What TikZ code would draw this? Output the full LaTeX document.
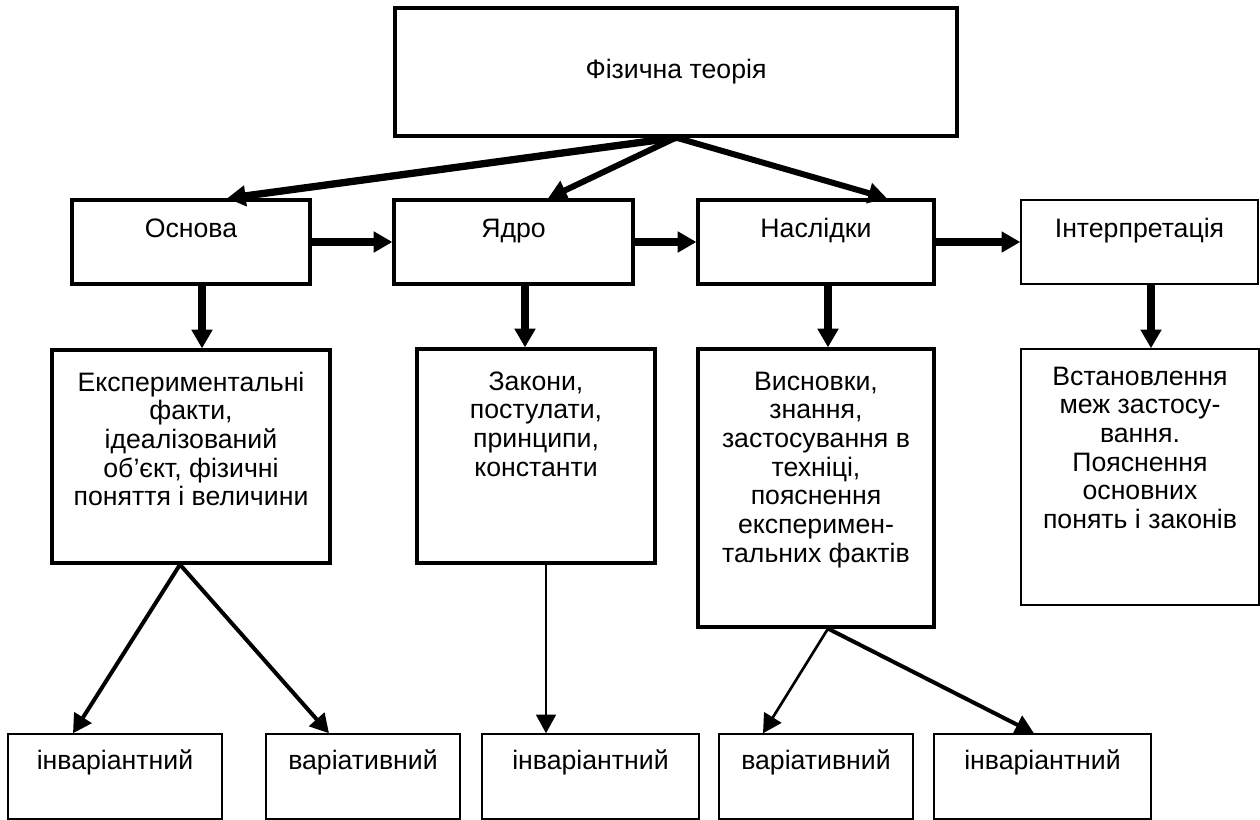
\documentclass[tikz,border=0pt]{standalone}
\usepackage{fontspec}
\setmainfont{Liberation Sans}
\usetikzlibrary{arrows.meta,calc}
\newdimen\unitpx \unitpx=0.75pt
% box text: [top pad]{width}{height}{text}, all in px
\newcommand{\boxcell}[4][17]{\parbox[c][#3\unitpx][t]{#2\unitpx}{\centering\vspace*{#1\unitpx}\strut#4\par}}

\begin{document}
\begin{tikzpicture}[x=0.75pt,y=0.75pt,yscale=-1,xscale=1,
  every node/.style={font=\fontsize{20}{21.5}\selectfont},
  tbox/.style={draw,line width=2.4pt,inner sep=0pt},
  tboxthin/.style={draw,line width=1.1pt,inner sep=0pt},
  arr/.style={-{Triangle[length=14pt,width=15pt]}},
  fat/.style={arr,line width=5.5pt},
  bold/.style={arr,line width=4.5pt},
  mid/.style={arr,line width=3pt},
  slim/.style={arr,line width=2pt},
  hair/.style={arr,line width=1.3pt}]
\useasboundingbox (0,0) rectangle (1260,820);
%Shape: Rectangle [top]
\node[tbox] (teoria) at (676,72) {\boxcell[50]{562}{128}{Фізична теорія}};
%Shape: Rectangle [row 2]
\node[tbox] (osnova) at (191,242) {\boxcell{238}{84}{Основа}};
\node[tbox] (yadro) at (513.5,242) {\boxcell{239}{84}{Ядро}};
\node[tbox] (naslidky) at (816,242) {\boxcell{236}{84}{Наслідки}};
\node[tboxthin] (interp) at (1139.5,242) {\boxcell{237}{84}{Інтерпретація}};
%Shape: Rectangle [row 3]
\node[tbox] (eksp) at (191,456.5) {\boxcell[21]{278}{213}{Експериментальні\\ факти,\\ ідеалізований\\ об’єкт, фізичні\\ поняття і величини}};
\node[tbox] (zakony) at (536,456) {\boxcell[21]{238}{214}{Закони,\\ постулати,\\ принципи,\\ константи}};
\node[tbox] (vysnovky) at (816,488) {\boxcell[21]{236}{278}{Висновки,\\ знання,\\ застосування в\\ техніці,\\ пояснення\\ експеримен-\\ тальних фактів}};
\node[tboxthin] (vstanov) at (1140,477) {\boxcell[16]{238}{256}{Встановлення\\ меж застосу-\\ вання.\\ Пояснення\\ основних\\ понять і законів}};
%Shape: Rectangle [row 4]
\node[tboxthin] (inv1) at (115,776.5) {\boxcell[15]{214}{85}{інваріантний}};
\node[tboxthin] (var1) at (363,776.5) {\boxcell[15]{194}{85}{варіативний}};
\node[tboxthin] (inv2) at (590.5,776.5) {\boxcell[15]{217}{85}{інваріантний}};
\node[tboxthin] (var2) at (816,776.5) {\boxcell[15]{194}{85}{варіативний}};
\node[tboxthin] (inv3) at (1042.5,776.5) {\boxcell[15]{217}{85}{інваріантний}};
%Straight Lines [from top]
\draw[fat] (teoria.south) -- ($(osnova.north)+(36,0)$);
\draw[bold] (teoria.south) -- ($(yadro.north)+(34.5,0)$);
\draw[bold] (teoria.south) -- ($(naslidky.north)+(71,0)$);
%Straight Lines [row 2]
\draw[fat] (osnova) -- (yadro);
\draw[fat] (yadro) -- (naslidky);
\draw[fat] (naslidky) -- (interp);
%Straight Lines [down]
\draw[fat] ($(osnova.south)+(11,0)$) -- ($(eksp.north)+(11,0)$);
\draw[fat] ($(yadro.south)+(11.5,0)$) -- ($(zakony.north)+(-11,0)$);
\draw[fat] ($(naslidky.south)+(12,0)$) -- ($(vysnovky.north)+(12,0)$);
\draw[fat] ($(interp.south)+(11.5,0)$) -- ($(vstanov.north)+(11,0)$);
%Straight Lines [to row 4]
\draw[mid] ($(eksp.south)+(-11,0)$) -- ($(inv1.north)+(-42,0)$);
\draw[mid] ($(eksp.south)+(-11,0)$) -- ($(var1.north)+(-34,0)$);
\draw[hair] ($(zakony.south)+(10,0)$) -- ($(inv2.north)+(-44.5,0)$);
\draw[slim] ($(vysnovky.south)+(12,0)$) -- ($(var2.north)+(-53,0)$);
\draw[mid] ($(vysnovky.south)+(12,0)$) -- ($(inv3.north)+(-8.5,0)$);
\end{tikzpicture}
\end{document}
